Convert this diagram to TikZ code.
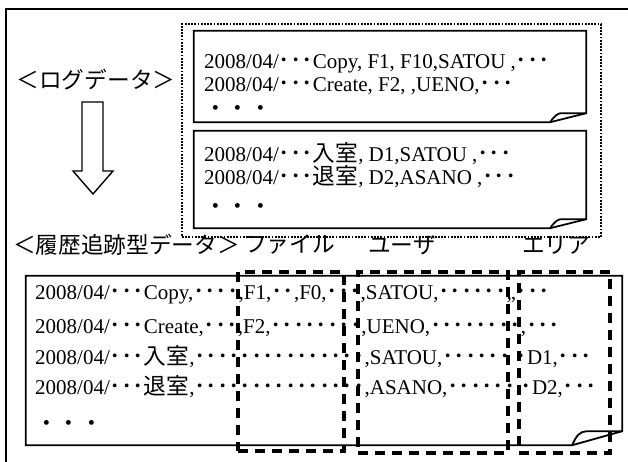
\documentclass[tikz,border=0pt]{standalone}
\usepackage{fontspec}
\setmainfont{Liberation Serif}
\newfontfamily\jpfont[Scale=1.08]{Noto Sans CJK JP}
\newcommand\jp[1]{{\jpfont #1}}
\usetikzlibrary{positioning}

% sheet outline with a curled lower right corner: node, flap width, flap height
\newcommand\sheet[3]{%
  \draw[sheet] (#1.north west) -- (#1.north east) -- ([yshift=#3]#1.south east)
    -- ([xshift=-#2]#1.south east) -- (#1.south west) -- cycle;
  \draw[sheet] ([xshift=-#2]#1.south east)
    .. controls ([xshift=-#2+4, yshift=#3*0.7]#1.south east) and ([xshift=-#2+8, yshift=#3]#1.south east)
    .. ([xshift=-#2*0.7, yshift=#3]#1.south east) -- ([yshift=#3]#1.south east);
}

\begin{document}
\begin{tikzpicture}[x=1pt, y=1pt,
  font=\fontsize{21}{25}\selectfont,
  frame/.style={draw=black, line width=2.2pt},
  group/.style={draw=black, line width=2.4pt, dash pattern=on 1.8pt off 1.4pt,
                inner sep=0pt},
  sheetspace/.style={inner sep=0pt},
  sheet/.style={draw=black, line width=1.8pt, line join=miter},
  field/.style={draw=black, line width=3.2pt, dash pattern=on 10pt off 7pt,
                inner sep=0pt},
  row/.style={anchor=base west, inner sep=0pt, text height=14pt, text depth=3pt},
  caption/.style={anchor=west, inner sep=0pt},
  hollow/.style={draw=black, line width=1.4pt, fill=white, line join=miter}
]
\useasboundingbox (0,0) rectangle (628,462);

\draw[frame] (6,0) -- (6,453) -- (628,453);

% log data
\node[group, minimum width=419, minimum height=213] (logs) at (391.5,331.5) {};
\node[sheetspace, minimum width=392, minimum height=91] (filelog) at (390,385.5) {};
\node[sheetspace, minimum width=392, minimum height=97] (roomlog) at (390,282.5) {};
\sheet{filelog}{36}{9}
\sheet{roomlog}{36}{9}

\node[row] (f1) at (204,393) {2008/04/\jp{･･･}Copy, F1, F10,SATOU ,\jp{･･･}};
\node[row] (f2) at (204,370) {2008/04/\jp{･･･}Create, F2, ,UENO,\jp{･･･}};
\node[row] (f3) at (204,345) {\jp{・・・}};
\node[row] (r1) at (204,300) {2008/04/\jp{･･･入室}, D1,SATOU ,\jp{･･･}};
\node[row] (r2) at (204,277) {2008/04/\jp{･･･退室}, D2,ASANO ,\jp{･･･}};
\node[row] (r3) at (204,247) {\jp{・・・}};

\node[anchor=center, inner sep=0pt] (loglabel) at (96,382) {\jp{＜ログデータ＞}};

% conversion arrow
\draw[hollow] (82,360) -- (103,360) -- (103,291) -- (113,291) -- (93,268)
  -- (73,291) -- (82,291) -- cycle;

% trace data
\node[caption] (tracelabel) at (13,217) {\jp{＜履歴追跡型データ＞}};
\node[caption] (filelabel) at (244,217) {\jp{ファイル}};
\node[caption] (userlabel) at (368,217) {\jp{ユーザ}};
\node[caption] (arealabel) at (522,217) {\jp{エリア}};

\node[sheetspace, minimum width=596, minimum height=169] (trace) at (324,101.5) {};
\sheet{trace}{50}{14}

\node[row] (t1) at (35,162) {2008/04/\jp{･･･}Copy,\jp{････},F1,\jp{･･},F0,\jp{･･･},SATOU,\jp{･･････},,\jp{･･･}};
\node[row] (t2) at (35,128) {2008/04/\jp{･･･}Create,\jp{･･･},F2,\jp{････････},UENO,\jp{････････},\jp{･･･}};
\node[row] (t3) at (35,97) {2008/04/\jp{･･･入室},\jp{･･･････････････},SATOU,\jp{･･････}\ \jp{･}D1,\jp{･･･}};
\node[row] (t4) at (35,67) {2008/04/\jp{･･･退室},\jp{･･･････････････},ASANO,\jp{･･････}\ \jp{･}D2,\jp{･･･}};
\node[row] (t5) at (35,30) {\jp{・・・}};

\node[field, minimum width=106, minimum height=179] (filecol) at (291,100.5) {};
\node[field, minimum width=150, minimum height=181] (usercol) at (433,99.5) {};
\node[field, minimum width=91, minimum height=181] (areacol) at (564.5,99.5) {};

\end{tikzpicture}
\end{document}
